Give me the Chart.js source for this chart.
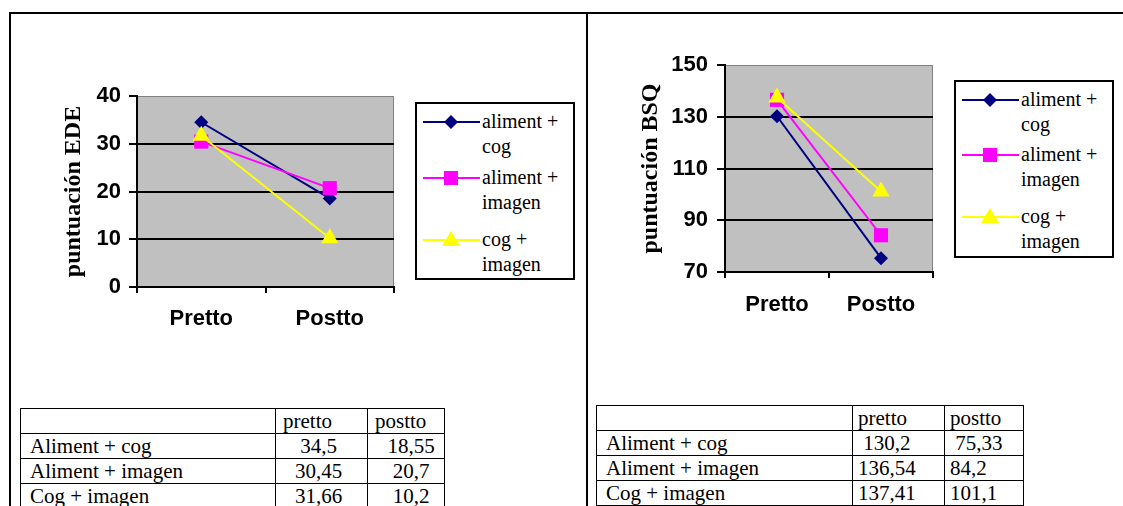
<!DOCTYPE html>
<html>
<head>
<meta charset="utf-8">
<script src="https://cdn.jsdelivr.net/npm/chart.js@4.4.1/dist/chart.umd.min.js"></script>
<style>
  body { margin: 0; background: #fff; width: 1123px; height: 506px; overflow: hidden; position: relative; }
  .rule { position: absolute; background: #000; }
  .box { position: absolute; }
  .legend { position: absolute; border: 2px solid #000; box-sizing: border-box; background: #fff;
            font-family: "Liberation Serif", "Times New Roman", serif; font-size: 20px; color: #000; }
  .legend .item { position: absolute; left: 0; right: 0; }
  .legend svg { position: absolute; left: 6px; }
  .legend .txt { position: absolute; line-height: 25px; white-space: nowrap; }
  table { position: absolute; border-collapse: collapse; table-layout: fixed;
          font-family: "Liberation Serif", "Times New Roman", serif; font-size: 21px; color: #000; }
  td { border: 1.5px solid #000; height: 24px; padding: 0; line-height: 22px; white-space: pre; }
  td:first-child { padding-left: 9px; }
  #tabEde td:nth-child(2) { text-align: center; padding-right: 6px; }
  #tabEde td:nth-child(3) { text-align: center; padding-left: 10px; }
  #tabEde tr.head td { text-align: left; padding: 0 0 0 7px; }
  #tabBsq td:nth-child(2), #tabBsq td:nth-child(3) { padding-left: 5px; }
</style>
</head>
<body>
<div class="rule" style="left:9px;top:12px;width:1114px;height:2px"></div>
<div class="rule" style="left:9px;top:12px;width:2px;height:494px"></div>
<div class="rule" style="left:586px;top:12px;width:2px;height:494px"></div>

<div class="box" style="left:40px;top:70px;width:370px;height:270px"><canvas id="ede"></canvas></div>
<div class="box" style="left:600px;top:40px;width:350px;height:290px"><canvas id="bsq"></canvas></div>

<div class="legend" id="legEde" style="left:415px;top:102px;width:160px;height:178px"></div>
<div class="legend" id="legBsq" style="left:954px;top:80px;width:160px;height:178px"></div>

<table id="tabEde" style="left:20px;top:408px;width:424px">
  <colgroup><col style="width:255px"><col style="width:92px"><col style="width:77px"></colgroup>
</table>
<table id="tabBsq" style="left:596px;top:405px;width:427px">
  <colgroup><col style="width:256px"><col style="width:92px"><col style="width:79px"></colgroup>
</table>

<script>
const categories = ["Pretto", "Postto"];
const seriesNames = ["aliment + cog", "aliment + imagen", "cog + imagen"];
const rowNames = ["Aliment + cog", "Aliment + imagen", "Cog + imagen"];

// EDE scores (pre, post)
const edeAlimCog = [34.5, 18.55];
const edeAlimImagen = [30.45, 20.7];
const edeCogImagen = [31.66, 10.2];

// BSQ scores (pre, post)
const bsqAlimCog = [130.2, 75.33];
const bsqAlimImagen = [136.54, 84.2];
const bsqCogImagen = [137.41, 101.1];

const colors = ["#000080", "#ff00ff", "#ffff00"];
const shapes = ["rectRot", "rect", "triangle"];
const radii = [7, 10, 10];

const plotBg = {
  id: "plotBg",
  beforeDraw(chart) {
    const { ctx, chartArea: a } = chart;
    ctx.save();
    ctx.fillStyle = "#c0c0c0";
    ctx.fillRect(a.left, a.top, a.width, a.height);
    ctx.strokeStyle = "#808080";
    ctx.lineWidth = 1;
    ctx.beginPath();
    ctx.moveTo(a.left, a.top + 0.5);
    ctx.lineTo(a.right - 0.5, a.top + 0.5);
    ctx.lineTo(a.right - 0.5, a.bottom);
    ctx.stroke();
    ctx.restore();
  },
};

function makeChart(id, values, opts) {
  const datasets = values.map((v, i) => ({
    label: seriesNames[i],
    data: v,
    borderColor: colors[i],
    backgroundColor: colors[i],
    borderWidth: 2,
    pointStyle: shapes[i],
    pointRadius: radii[i],
    pointBorderWidth: 0,
    order: 3 - i,
  }));
  const tickFont = { family: "Liberation Sans", weight: "bold", size: 22 };
  return new Chart(document.getElementById(id), {
    type: "line",
    data: { labels: categories, datasets: datasets },
    plugins: [plotBg],
    options: {
      animation: false,
      responsive: true,
      maintainAspectRatio: false,
      layout: { padding: opts.padding },
      plugins: { legend: { display: false }, tooltip: { enabled: false } },
      scales: {
        x: {
          offset: true,
          afterFit: (s) => { s.height = opts.xHeight; },
          grid: { offset: true, drawOnChartArea: false, tickLength: 6, tickColor: "#000", lineWidth: 2 },
          border: { color: "#000", width: 2 },
          ticks: { color: "#000", font: tickFont, padding: opts.xPad, maxRotation: 0 },
        },
        y: {
          min: opts.min,
          max: opts.max,
          afterFit: (s) => { s.width = opts.yWidth; },
          grid: {
            color: (c) => (c.tick && c.tick.value === opts.max ? "rgba(0,0,0,0)" : "#000"),
            tickColor: "#000",
            tickLength: 8,
            lineWidth: 2,
          },
          border: { color: "#000", width: 2 },
          ticks: { stepSize: opts.step, color: "#000", font: tickFont, padding: opts.yPad },
          title: {
            display: true,
            text: opts.title,
            color: "#000",
            padding: 0,
            font: { family: "Liberation Serif", weight: "bold", size: 24 },
          },
        },
      },
    },
  });
}

makeChart("ede", [edeAlimCog, edeAlimImagen, edeCogImagen], {
  padding: { left: 19, top: 26, right: 16, bottom: 0 },
  yWidth: 78, xHeight: 53, xPad: 13, yPad: 8,
  min: 0, max: 40, step: 10, title: "puntuación EDE",
});

makeChart("bsq", [bsqAlimCog, bsqAlimImagen, bsqCogImagen], {
  padding: { left: 36, top: 25, right: 17, bottom: 0 },
  yWidth: 89, xHeight: 58, xPad: 14, yPad: 9,
  min: 70, max: 150, step: 20, title: "puntuación BSQ",
});

function markerSvg(i) {
  const c = colors[i];
  let m;
  if (shapes[i] === "rectRot") m = `<polygon points="28,5 35,12 28,19 21,12" fill="${c}"/>`;
  else if (shapes[i] === "rect") m = `<rect x="21" y="5" width="14" height="14" fill="${c}"/>`;
  else m = `<polygon points="28,3 37,18 19,18" fill="${c}"/>`;
  return `<svg width="57" height="24" viewBox="0 0 57 24"><line x1="0" y1="12" x2="57" y2="12" stroke="${c}" stroke-width="2"/>${m}</svg>`;
}

function buildLegend(id, tops) {
  const el = document.getElementById(id);
  seriesNames.forEach((name, i) => {
    const cut = name.lastIndexOf(" ");
    const item = document.createElement("div");
    item.className = "item";
    item.style.top = tops[i] + "px";
    item.innerHTML = markerSvg(i) +
      `<div class="txt" style="left:65px;top:-1px">${name.slice(0, cut)}<br>${name.slice(cut + 1)}</div>`;
    el.appendChild(item);
  });
}
buildLegend("legEde", [6, 62, 124]);
buildLegend("legBsq", [6, 61, 123]);

function fmt(v) { return String(v).replace(".", ","); }

function buildTable(id, values, lead) {
  const t = document.getElementById(id);
  let html = `<tr class="head"><td></td><td>${categories[0].toLowerCase()}</td><td>${categories[1].toLowerCase()}</td></tr>`;
  values.forEach((v, i) => {
    html += `<tr><td>${rowNames[i]}</td>` +
      v.map((x, j) => `<td>${lead[i][j] ? " " : ""}${fmt(x)}</td>`).join("") + "</tr>";
  });
  t.insertAdjacentHTML("beforeend", html);
}
buildTable("tabEde", [edeAlimCog, edeAlimImagen, edeCogImagen], [[0, 0], [0, 0], [0, 0]]);
buildTable("tabBsq", [bsqAlimCog, bsqAlimImagen, bsqCogImagen], [[1, 1], [0, 0], [0, 0]]);
</script>
</body>
</html>
